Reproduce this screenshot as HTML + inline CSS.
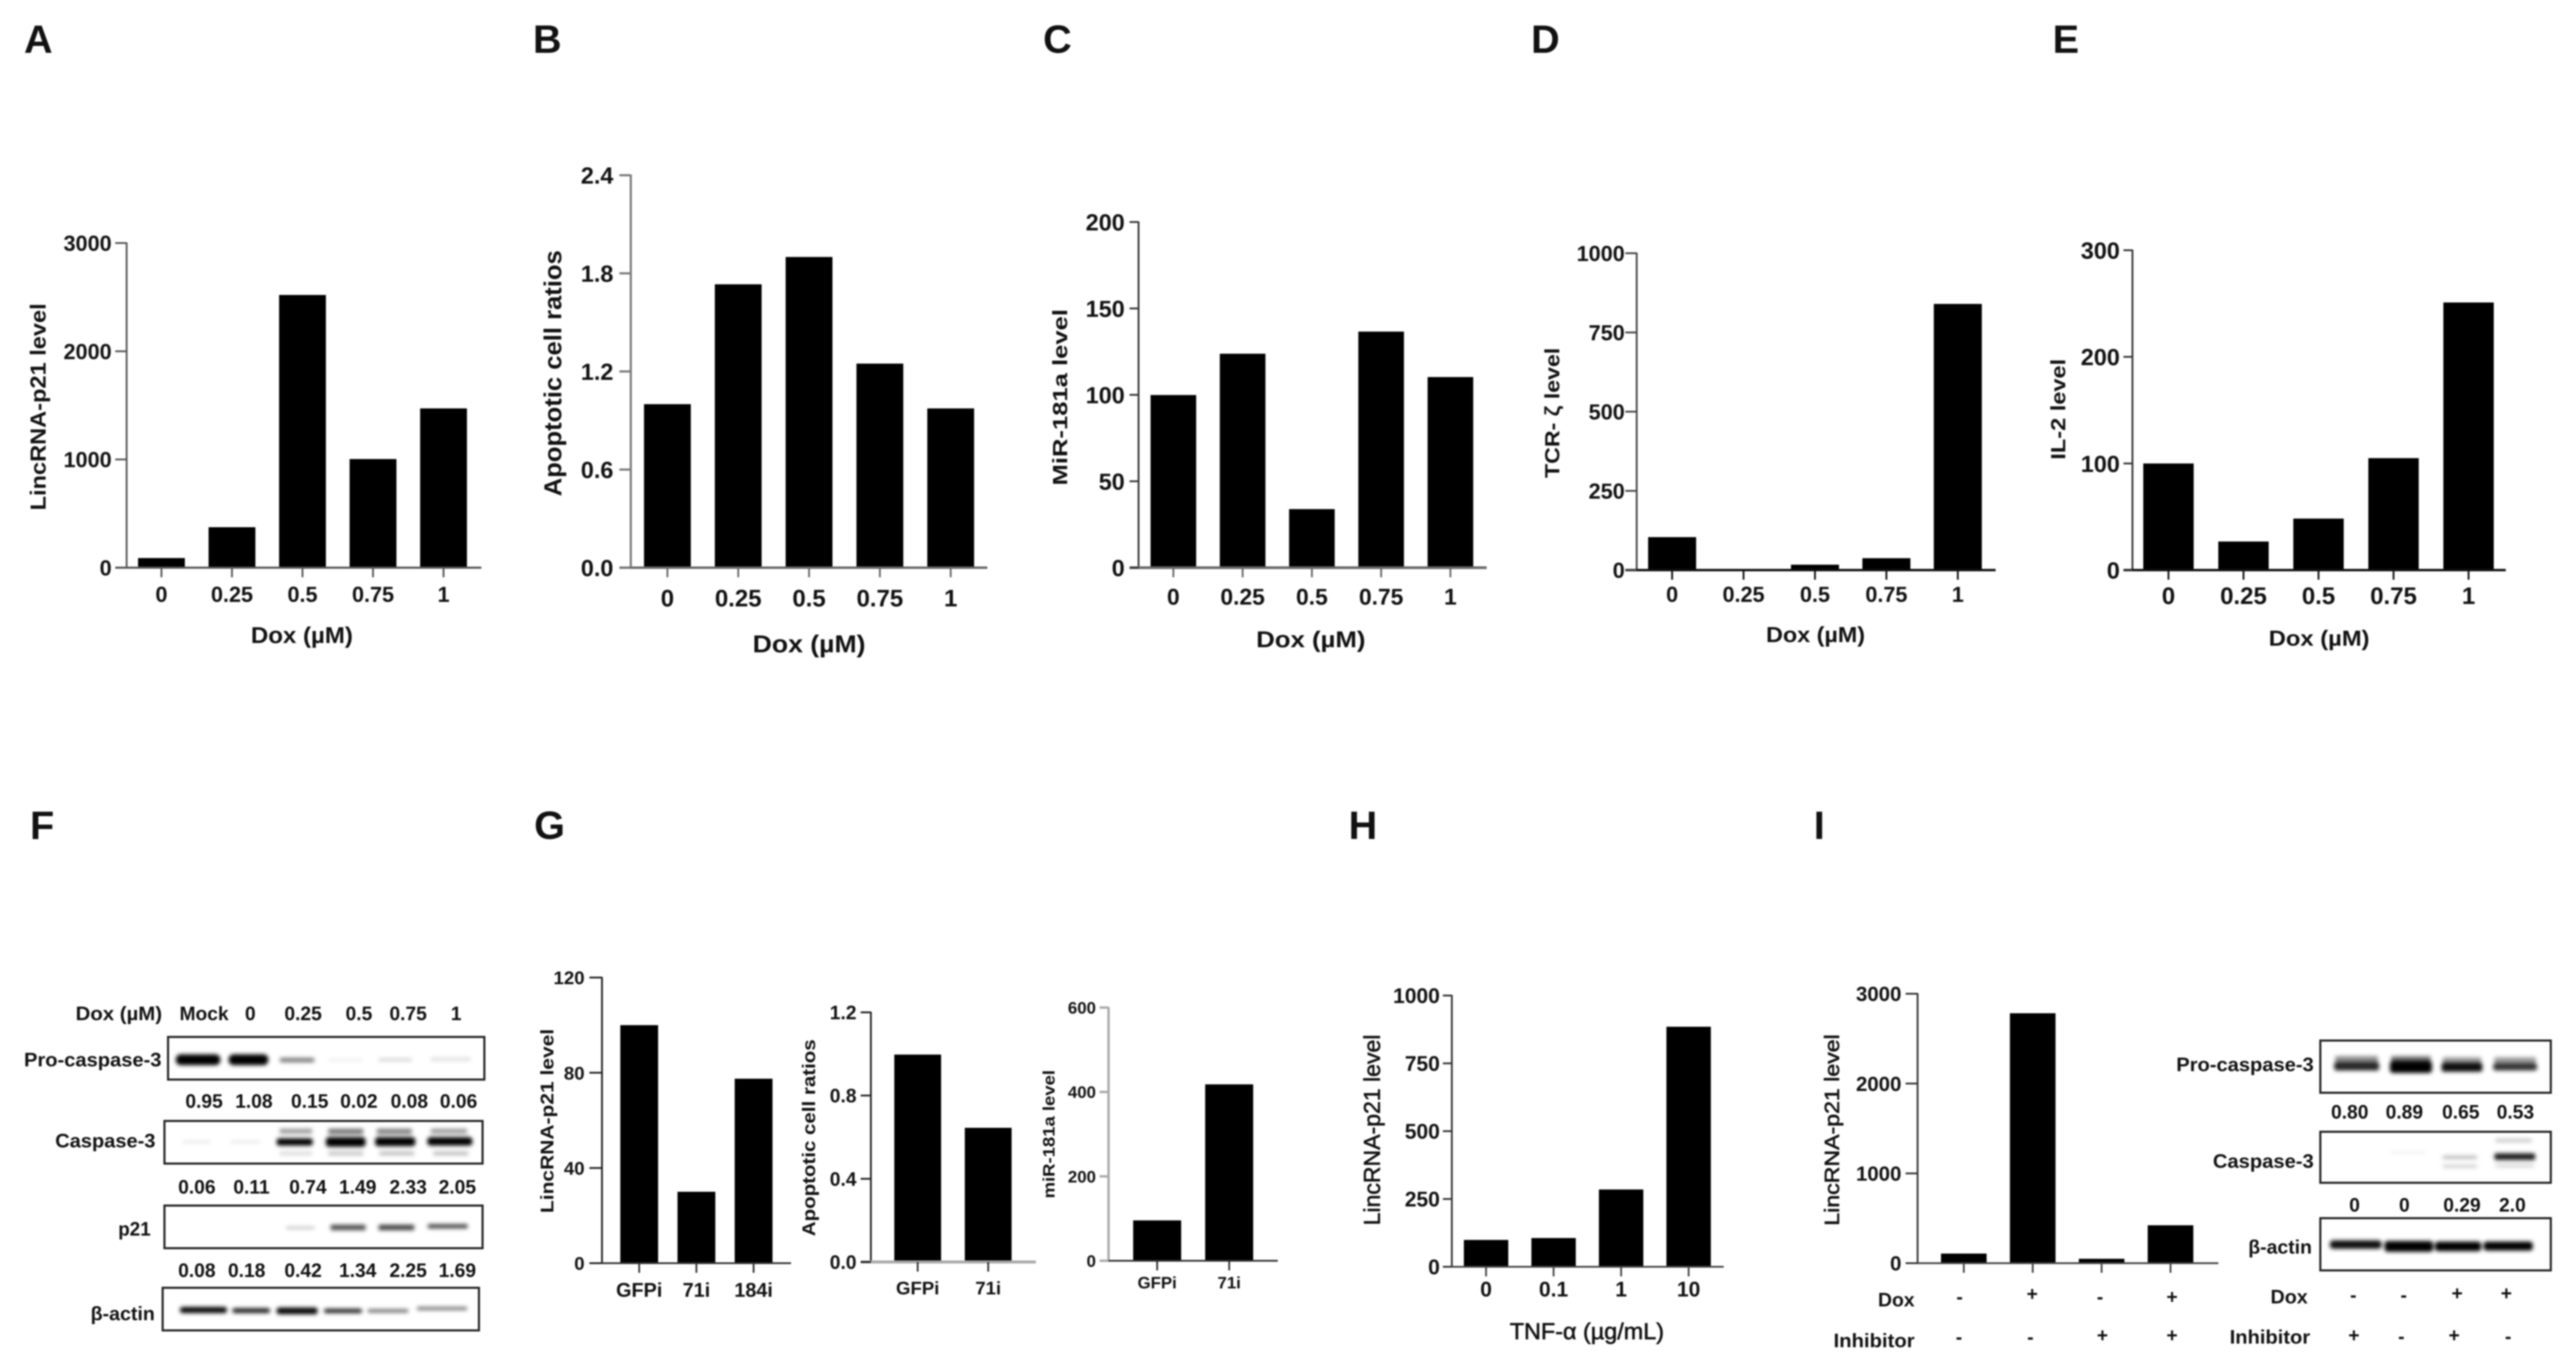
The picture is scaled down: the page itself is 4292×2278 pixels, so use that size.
<!DOCTYPE html>
<html lang="en">
<head>
<meta charset="utf-8">
<title>Dox dose-response figure panels A to I</title>
<style>
html,body{margin:0;padding:0;background:#fff;}
#figure{display:block;width:4292px;height:2278px;background:#fff;font-family:"Liberation Sans",sans-serif;filter:blur(1.4px);}
text{font-family:"Liberation Sans",sans-serif;fill:#111;}
.letter{font-size:66px;font-weight:700;}
.wb{font-size:32px;font-weight:700;text-anchor:middle;}
.wbl{font-size:32px;font-weight:700;text-anchor:start;}
.box{fill:#fff;stroke:#222;stroke-width:3.5;}
</style>
</head>
<body>
<svg id="figure" xmlns="http://www.w3.org/2000/svg" width="4292" height="2278" viewBox="0 0 4292 2278">
<defs>
<filter id="soft" x="-30%" y="-150%" width="160%" height="400%"><feGaussianBlur stdDeviation="3.5"/></filter>
</defs>
<rect x="0" y="0" width="4292" height="2278" fill="#fff"/>

<text class="letter" x="40" y="88">A</text>
<text class="letter" x="888" y="88">B</text>
<text class="letter" x="1738" y="88">C</text>
<text class="letter" x="2551" y="88">D</text>
<text class="letter" x="3420" y="88">E</text>
<text class="letter" x="50" y="1398">F</text>
<text class="letter" x="890" y="1398">G</text>
<text class="letter" x="2247" y="1398">H</text>
<text class="letter" x="3022" y="1398">I</text>

<g id="panel-f-blot">
  <text class="wbl" x="126" y="1700" textLength="144" lengthAdjust="spacingAndGlyphs">Dox (µM)</text>
  <text class="wb" x="340" y="1700">Mock</text>
  <text class="wb" x="417" y="1700">0</text>
  <text class="wb" x="505" y="1700">0.25</text>
  <text class="wb" x="598" y="1700">0.5</text>
  <text class="wb" x="680" y="1700">0.75</text>
  <text class="wb" x="760" y="1700">1</text>

  <text class="wbl" x="40" y="1777" textLength="229" lengthAdjust="spacingAndGlyphs">Pro-caspase-3</text>
  <rect class="box" x="280" y="1728" width="527" height="71"/>
  <g filter="url(#soft)">
    <rect x="293" y="1757" width="74" height="18" rx="8" fill="#000"/>
    <rect x="381" y="1757" width="66" height="18" rx="8" fill="#000"/>
    <rect x="466" y="1763" width="58" height="7" rx="3" fill="#000" opacity=".55"/>
    <rect x="548" y="1765" width="55" height="3" fill="#000" opacity=".1"/>
    <rect x="631" y="1764" width="55" height="4" fill="#000" opacity=".22"/>
    <rect x="718" y="1763" width="66" height="4" fill="#000" opacity=".18"/>
  </g>
  <text class="wb" x="340" y="1846">0.95</text>
  <text class="wb" x="423" y="1846">1.08</text>
  <text class="wb" x="516" y="1846">0.15</text>
  <text class="wb" x="598" y="1846">0.02</text>
  <text class="wb" x="682" y="1846">0.08</text>
  <text class="wb" x="764" y="1846">0.06</text>

  <text class="wbl" x="92" y="1912" textLength="167" lengthAdjust="spacingAndGlyphs">Caspase-3</text>
  <rect class="box" x="274" y="1868" width="530" height="71"/>
  <g filter="url(#soft)">
    <rect x="304" y="1901" width="47" height="4" fill="#000" opacity=".1"/>
    <rect x="384" y="1901" width="49" height="4" fill="#000" opacity=".1"/>
    <rect x="461" y="1897" width="60" height="12" rx="4" fill="#000"/>
    <rect x="543" y="1895" width="66" height="16" rx="5" fill="#000"/>
    <rect x="625" y="1895" width="67" height="15" rx="5" fill="#000"/>
    <rect x="712" y="1895" width="75" height="14" rx="5" fill="#000"/>
    <rect x="466" y="1881" width="54" height="8" fill="#000" opacity=".4"/>
    <rect x="547" y="1881" width="58" height="9" fill="#000" opacity=".55"/>
    <rect x="628" y="1881" width="58" height="9" fill="#000" opacity=".5"/>
    <rect x="718" y="1881" width="60" height="8" fill="#000" opacity=".4"/>
    <rect x="466" y="1919" width="54" height="6" fill="#000" opacity=".15"/>
    <rect x="547" y="1919" width="58" height="6" fill="#000" opacity=".25"/>
    <rect x="632" y="1919" width="58" height="6" fill="#000" opacity=".28"/>
    <rect x="722" y="1919" width="58" height="6" fill="#000" opacity=".28"/>
  </g>
  <text class="wb" x="328" y="1989">0.06</text>
  <text class="wb" x="419" y="1989">0.11</text>
  <text class="wb" x="513" y="1989">0.74</text>
  <text class="wb" x="596" y="1989">1.49</text>
  <text class="wb" x="680" y="1989">2.33</text>
  <text class="wb" x="762" y="1989">2.05</text>

  <text class="wbl" x="197" y="2059" textLength="54" lengthAdjust="spacingAndGlyphs">p21</text>
  <rect class="box" x="274" y="2009" width="530" height="71"/>
  <g filter="url(#soft)">
    <rect x="477" y="2044" width="47" height="4" fill="#000" opacity=".25"/>
    <rect x="551" y="2041" width="58" height="9" fill="#000" opacity=".7"/>
    <rect x="631" y="2041" width="59" height="9" fill="#000" opacity=".75"/>
    <rect x="713" y="2040" width="66" height="7" fill="#000" opacity=".75"/>
  </g>
  <text class="wb" x="328" y="2128">0.08</text>
  <text class="wb" x="411" y="2128">0.18</text>
  <text class="wb" x="505" y="2128">0.42</text>
  <text class="wb" x="596" y="2128">1.34</text>
  <text class="wb" x="680" y="2128">2.25</text>
  <text class="wb" x="762" y="2128">1.69</text>

  <text class="wbl" x="151" y="2200" textLength="107" lengthAdjust="spacingAndGlyphs">β-actin</text>
  <rect class="box" x="271" y="2146" width="527" height="71"/>
  <g filter="url(#soft)">
    <rect x="300" y="2178" width="78" height="10" rx="4" fill="#000"/>
    <rect x="387" y="2180" width="63" height="8" rx="4" fill="#000" opacity=".9"/>
    <rect x="461" y="2179" width="68" height="11" rx="4" fill="#000"/>
    <rect x="540" y="2181" width="63" height="7" rx="3" fill="#000" opacity=".9"/>
    <rect x="613" y="2182" width="67" height="5" fill="#000" opacity=".65"/>
    <rect x="695" y="2178" width="83" height="5" fill="#000" opacity=".6"/>
  </g>
</g>

<g id="panel-i-blot">
  <text class="wbl" x="3626" y="1785" textLength="229" lengthAdjust="spacingAndGlyphs">Pro-caspase-3</text>
  <rect class="box" x="3866" y="1734" width="384" height="87"/>
  <g filter="url(#soft)">
    <rect x="3891" y="1760" width="71" height="10" fill="#000" opacity=".45"/>
    <rect x="3984" y="1760" width="66" height="10" fill="#000" opacity=".55"/>
    <rect x="4070" y="1762" width="64" height="10" fill="#000" opacity=".4"/>
    <rect x="4156" y="1762" width="69" height="10" fill="#000" opacity=".4"/>
    <rect x="3889" y="1770" width="75" height="14" rx="4" fill="#000" opacity=".85"/>
    <rect x="3982" y="1768" width="70" height="20" rx="5" fill="#000"/>
    <rect x="4068" y="1771" width="68" height="15" rx="4" fill="#000" opacity=".95"/>
    <rect x="4154" y="1772" width="73" height="12" rx="4" fill="#000" opacity=".8"/>
  </g>
  <text class="wb" x="3915" y="1864">0.80</text>
  <text class="wb" x="4006" y="1864">0.89</text>
  <text class="wb" x="4100" y="1864">0.65</text>
  <text class="wb" x="4191" y="1864">0.53</text>

  <text class="wbl" x="3687" y="1946" textLength="168" lengthAdjust="spacingAndGlyphs">Caspase-3</text>
  <rect class="box" x="3866" y="1886" width="384" height="85"/>
  <g filter="url(#soft)">
    <rect x="3984" y="1919" width="57" height="3" fill="#000" opacity=".08"/>
    <rect x="4070" y="1926" width="57" height="5" fill="#000" opacity=".3"/>
    <rect x="4070" y="1941" width="57" height="5" fill="#000" opacity=".2"/>
    <rect x="4158" y="1898" width="60" height="5" fill="#000" opacity=".25"/>
    <rect x="4156" y="1922" width="68" height="11" rx="3" fill="#000" opacity=".9"/>
    <rect x="4158" y="1940" width="64" height="5" fill="#000" opacity=".18"/>
  </g>
  <text class="wb" x="3923" y="2019">0</text>
  <text class="wb" x="4006" y="2019">0</text>
  <text class="wb" x="4102" y="2019">0.29</text>
  <text class="wb" x="4186" y="2019">2.0</text>

  <text class="wbl" x="3746" y="2089" textLength="106" lengthAdjust="spacingAndGlyphs">β-actin</text>
  <rect class="box" x="3866" y="2030" width="384" height="87"/>
  <g filter="url(#soft)">
    <rect x="3882" y="2067" width="86" height="14" rx="5" fill="#000" opacity=".95"/>
    <rect x="3973" y="2068" width="81" height="18" rx="5" fill="#000"/>
    <rect x="4057" y="2069" width="77" height="16" rx="5" fill="#000"/>
    <rect x="4138" y="2069" width="82" height="15" rx="5" fill="#000"/>
  </g>

  <text class="wbl" x="3783" y="2172" textLength="62" lengthAdjust="spacingAndGlyphs">Dox</text>
  <text class="wb" x="3921" y="2169">-</text>
  <text class="wb" x="4005" y="2169">-</text>
  <text class="wb" x="4094" y="2166">+</text>
  <text class="wb" x="4176" y="2166">+</text>
  <text class="wbl" x="3715" y="2239" textLength="134" lengthAdjust="spacingAndGlyphs">Inhibitor</text>
  <text class="wb" x="3922" y="2236">+</text>
  <text class="wb" x="4001" y="2238">-</text>
  <text class="wb" x="4089" y="2236">+</text>
  <text class="wb" x="4179" y="2238">-</text>

  <text class="wbl" x="3129" y="2177" textLength="61" lengthAdjust="spacingAndGlyphs">Dox</text>
  <text class="wb" x="3265" y="2172">-</text>
  <text class="wb" x="3386" y="2167">+</text>
  <text class="wb" x="3499" y="2172">-</text>
  <text class="wb" x="3619" y="2172">+</text>
  <text class="wbl" x="3055" y="2245" textLength="135" lengthAdjust="spacingAndGlyphs">Inhibitor</text>
  <text class="wb" x="3264" y="2239">-</text>
  <text class="wb" x="3383" y="2239">-</text>
  <text class="wb" x="3503" y="2236">+</text>
  <text class="wb" x="3619" y="2236">+</text>
</g>

<g id="charts"></g>
</svg>

<script>
const doseCategories = ['0', '0.25', '0.5', '0.75', '1'];
const aValues = [89, 374, 2520, 1004, 1472];
const aTicks = [0, 1000, 2000, 3000];
const aTickLabels = ['0', '1000', '2000', '3000'];
const bValues = [1.0, 1.733, 1.9, 1.248, 0.974];
const bTicks = [0, 0.6, 1.2, 1.8, 2.4];
const bTickLabels = ['0.0', '0.6', '1.2', '1.8', '2.4'];
const cValues = [99.9, 123.8, 33.9, 136.6, 110.3];
const cTicks = [0, 50, 100, 150, 200];
const cTickLabels = ['0', '50', '100', '150', '200'];
const dValues = [104, 1, 17, 37.5, 840];
const dTicks = [0, 250, 500, 750, 1000];
const dTickLabels = ['0', '250', '500', '750', '1000'];
const eValues = [100, 26.8, 48.3, 105, 251];
const eTicks = [0, 100, 200, 300];
const eTickLabels = ['0', '100', '200', '300'];
const g1Categories = ['GFPi', '71i', '184i'];
const g1Values = [100, 30, 77.5];
const g1Ticks = [0, 40, 80, 120];
const g1TickLabels = ['0', '40', '80', '120'];
const g2Categories = ['GFPi', '71i'];
const g2Values = [0.997, 0.645];
const g2Ticks = [0, 0.4, 0.8, 1.2];
const g2TickLabels = ['0.0', '0.4', '0.8', '1.2'];
const g3Categories = ['GFPi', '71i'];
const g3Values = [95.7, 418];
const g3Ticks = [0, 200, 400, 600];
const g3TickLabels = ['0', '200', '400', '600'];
const hCategories = ['0', '0.1', '1', '10'];
const hValues = [99, 106, 285, 885];
const hTicks = [0, 250, 500, 750, 1000];
const hTickLabels = ['0', '250', '500', '750', '1000'];
const iCategories = ['', '', '', ''];
const iValues = [107, 2783, 49, 422];
const iTicks = [0, 1000, 2000, 3000];
const iTickLabels = ['0', '1000', '2000', '3000'];

const panels = [
  {id:'a', cats:doseCategories, vals:aValues, ticks:aTicks, tickLabels:aTickLabels, left:211, top:405, bottom:946, right:802, axisStart:192, first:269, step:117.5, barW:78, max:3000, tickFs:36, tickGap:25, catFs:36, catY:990, axisColor:'#555', xColor:'#555', axisW:3, xW:3.5,
   yTitle:'LincRNA-p21 level', yBase:76, yMid:678, yLen:345, yFs:36, yWeight:700, xTitle:'Dox (µM)', xMid:503, xY:1058, xLen:170, xFs:38},
  {id:'b', cats:doseCategories, vals:bValues, ticks:bTicks, tickLabels:bTickLabels, left:1051, top:292, bottom:946, right:1645, axisStart:1032, first:1112, step:118, barW:78, max:2.4, tickFs:39, tickGap:29, catFs:40, catY:996, axisColor:'#777', xColor:'#666', axisW:3.5, xW:4,
   yTitle:'Apoptotic cell ratios', yBase:935, yMid:622, yLen:410, yFs:41, yWeight:700, xTitle:'Dox (µM)', xMid:1348, xY:1072, xLen:188, xFs:41},
  {id:'c', cats:doseCategories, vals:cValues, ticks:cTicks, tickLabels:cTickLabels, left:1897, top:370, bottom:946, right:2477, axisStart:1882, first:1955, step:115.4, barW:76, max:200, tickFs:39, tickGap:23, catFs:38, catY:994, axisColor:'#333', xColor:'#666', axisW:3, xW:4.5,
   yTitle:'MiR-181a level', yBase:1778, yMid:662, yLen:294, yFs:34, yWeight:700, xTitle:'Dox (µM)', xMid:2184, xY:1065, xLen:182, xFs:38},
  {id:'d', cats:doseCategories, vals:dValues, ticks:dTicks, tickLabels:dTickLabels, left:2727, top:422, bottom:950, right:3325, axisStart:2708, first:2786, step:119, barW:80, max:1000, tickFs:36, tickGap:20, catFs:36, catY:990, axisColor:'#444', xColor:'#111', axisW:3, xW:4,
   yTitle:'TCR- ζ level', yBase:2598, yMid:688, yLen:217, yFs:34, yWeight:700, xTitle:'Dox (µM)', xMid:3025, xY:1057, xLen:165, xFs:36},
  {id:'e', cats:doseCategories, vals:eValues, ticks:eTicks, tickLabels:eTickLabels, left:3553, top:417, bottom:950, right:4175, axisStart:3538, first:3613, step:125, barW:84, max:300, tickFs:39, tickGap:21, catFs:40, catY:992, axisColor:'#333', xColor:'#111', axisW:3, xW:4,
   yTitle:'IL-2 level', yBase:3441, yMid:682, yLen:168, yFs:34, yWeight:700, xTitle:'Dox (µM)', xMid:3864, xY:1063, xLen:168, xFs:36},
  {id:'g1', cats:g1Categories, vals:g1Values, ticks:g1Ticks, tickLabels:g1TickLabels, left:1003, top:1629, bottom:2105, right:1318, axisStart:982, first:1065, step:95.3, barW:63, max:120, tickFs:31, tickGap:29, catFs:33, catY:2149, axisColor:'#222', xColor:'#333', axisW:3, xW:3,
   yTitle:'LincRNA-p21 level', yBase:922, yMid:1868, yLen:307, yFs:31, yWeight:700, xTitle:'', xMid:0, xY:0, xLen:0, xFs:0},
  {id:'g2', cats:g2Categories, vals:g2Values, ticks:g2Ticks, tickLabels:g2TickLabels, left:1451, top:1687, bottom:2103, right:1726, axisStart:1434, first:1529, step:117.5, barW:78, max:1.2, tickFs:32, tickGap:24, catFs:31, catY:2146, axisColor:'#222', xColor:'#aaa', axisW:3, xW:5,
   yTitle:'Apoptotic cell ratios', yBase:1358, yMid:1896, yLen:328, yFs:31, yWeight:700, xTitle:'', xMid:0, xY:0, xLen:0, xFs:0},
  {id:'g3', cats:g3Categories, vals:g3Values, ticks:g3Ticks, tickLabels:g3TickLabels, left:1847, top:1679, bottom:2101, right:2129, axisStart:1832, first:1928, step:120, barW:80, max:600, tickFs:28, tickGap:21, catFs:28, catY:2137, axisColor:'#aaa', xColor:'#333', axisW:4, xW:3,
   yTitle:'miR-181a level', yBase:1757, yMid:1890, yLen:214, yFs:28, yWeight:700, xTitle:'', xMid:0, xY:0, xLen:0, xFs:0},
  {id:'h', cats:hCategories, vals:hValues, ticks:hTicks, tickLabels:hTickLabels, left:2419, top:1659, bottom:2111, right:2872, axisStart:2404, first:2476, step:112.5, barW:74, max:1000, tickFs:35, tickGap:20, catFs:35, catY:2148, axisColor:'#333', xColor:'#444', axisW:3, xW:3,
   yTitle:'LincRNA-p21 level', yBase:2299, yMid:1883, yLen:318, yFs:38, yWeight:400, xTitle:'TNF-α (µg/mL)', xMid:2644, xY:2218, xLen:257, xFs:38},
  {id:'i', cats:iCategories, vals:iValues, ticks:iTicks, tickLabels:iTickLabels, left:3195, top:1656, bottom:2105, right:3696, axisStart:3175, first:3272, step:114.8, barW:76, max:3000, tickFs:34, tickGap:27, catFs:0, catY:0, axisColor:'#333', xColor:'#444', axisW:3, xW:3,
   yTitle:'LincRNA-p21 level', yBase:3064, yMid:1883, yLen:319, yFs:34, yWeight:400, xTitle:'', xMid:0, xY:0, xLen:0, xFs:0}
];

const NS = 'http://www.w3.org/2000/svg';
const root = document.getElementById('charts');

function line(parent, name, x1, y1, x2, y2, color, w) {
  const el = document.createElementNS(NS, 'line');
  
  
  el.setAttribute('x1', x1);
  el.setAttribute('y1', y1);
  el.setAttribute('x2', x2);
  el.setAttribute('y2', y2);
  el.setAttribute('stroke', color);
  el.setAttribute('stroke-width', w);
  parent.appendChild(el);
}

function label(parent, name, str, x, y, fs, anchor, weight, len, rotate) {
  const el = document.createElementNS(NS, 'text');
  
  
  el.setAttribute('x', x);
  el.setAttribute('y', y);
  el.setAttribute('font-size', fs);
  el.setAttribute('font-weight', weight);
  el.setAttribute('text-anchor', anchor);
  if (weight === 400) {
    el.setAttribute('stroke', '#111');
    el.setAttribute('stroke-width', '0.9');
  }
  if (len) {
    el.setAttribute('textLength', len);
    el.setAttribute('lengthAdjust', 'spacingAndGlyphs');
  }
  if (rotate) {
    el.setAttribute('transform', 'rotate(-90 ' + x + ' ' + y + ')');
  }
  el.textContent = str;
  parent.appendChild(el);
}

function drawPanel(p) {
  const yScale = v => p.bottom - (v / p.max) * (p.bottom - p.top);
  const xScale = i => p.first + i * p.step;
  const g = document.createElementNS(NS, 'g');
  
  
  root.appendChild(g);

  p.vals.forEach((v, i) => {
    const bar = document.createElementNS(NS, 'rect');
    
    
    bar.setAttribute('x', xScale(i) - p.barW / 2);
    bar.setAttribute('y', yScale(v));
    bar.setAttribute('width', p.barW);
    bar.setAttribute('height', p.bottom - yScale(v));
    bar.setAttribute('fill', '#000');
    g.appendChild(bar);
  });

  line(g, 'y-axis-' + p.id, p.left, p.top - 1, p.left, p.bottom + 1, p.axisColor, p.axisW);
  line(g, 'x-axis-' + p.id, p.axisStart, p.bottom, p.right, p.bottom, p.xColor, p.xW);

  p.ticks.forEach((t, i) => {
    line(g, 'y-tick-' + p.id + '-' + i, p.axisStart, yScale(t), p.left, yScale(t), p.axisColor, p.axisW);
    label(g, 'y-tick-label-' + p.id + '-' + i, p.tickLabels[i], p.left - p.tickGap, yScale(t) + p.tickFs * 0.36, p.tickFs, 'end', 700);
  });

  p.cats.forEach((c, i) => {
    line(g, 'x-tick-' + p.id + '-' + i, xScale(i), p.bottom, xScale(i), p.bottom + 16, p.xColor === '#aaa' ? '#333' : p.xColor, 3);
    if (c) {
      label(g, 'x-tick-label-' + p.id + '-' + i, c, xScale(i), p.catY + p.catFs * 0.36, p.catFs, 'middle', 700);
    }
  });

  label(g, 'y-axis-title-' + p.id, p.yTitle, p.yBase, p.yMid, p.yFs, 'middle', p.yWeight, p.yLen, true);
  if (p.xTitle) {
    label(g, 'x-axis-title-' + p.id, p.xTitle, p.xMid, p.xY + p.xFs * 0.36, p.xFs, 'middle', p.id === 'h' ? 400 : 700, p.xLen);
  }
}

panels.forEach(drawPanel);
</script>
</body>
</html>
